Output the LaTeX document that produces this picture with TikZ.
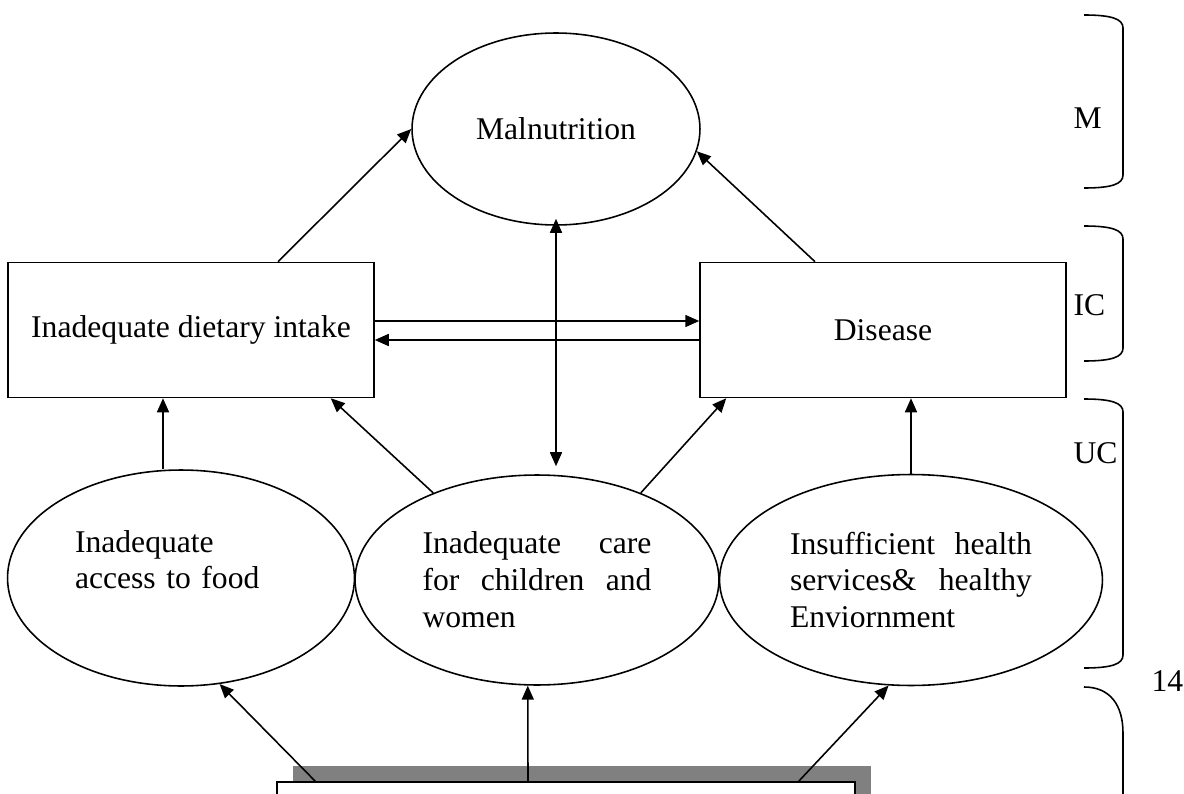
\documentclass[tikz,border=0pt]{standalone}
\usepackage{fontspec}
\setmainfont{Liberation Serif}
\usetikzlibrary{arrows.meta,positioning,calc,shapes.geometric,shadows}

\begin{document}
\begin{tikzpicture}[x=0.02cm,y=-0.02cm,line width=0.9pt,
	every node/.style={font=\fontsize{18pt}{21pt}\selectfont},
	cause/.style={draw,ellipse,inner sep=0pt,align=left},
	cbox/.style={draw,rectangle,minimum width=7.32cm,minimum height=2.7cm},
	arr/.style={-{Triangle[length=0.28cm,width=0.24cm]}},
	dbl/.style={{Triangle[length=0.28cm,width=0.24cm]}-{Triangle[length=0.28cm,width=0.24cm]}}]
				\useasboundingbox (0,0) rectangle (1184,794);
				\clip (0,0) rectangle (1184,794);

				\node[cause,minimum width=5.76cm,minimum height=3.84cm] (mal) at (556,129) {Malnutrition};

				\node[cbox] (diet) at (191,330) {Inadequate dietary intake};
				\node[cbox] (dis) at (883,330) {Disease};

				\node[cause,minimum width=6.94cm,minimum height=4.32cm,text width=4.24cm] (food) at (181,578)
				{Inadequate\\access to food\\\mbox{}};
				\node[cause,minimum width=7.28cm,minimum height=4.2cm,text width=4.58cm] (care) at (537,580)
				{Inadequate\hfill care\\for\hfill children\hfill and\\women};
				\node[cause,minimum width=7.66cm,minimum height=4.22cm,text width=4.84cm] (health) at (911,580)
				{Insufficient\hfill health\\services\&\hfill healthy\\Enviornment};

				\node[draw,fill=white,minimum width=11.56cm,minimum height=1.2cm,
					drop shadow={shadow xshift=0.32cm,shadow yshift=0.32cm,fill=gray,opacity=1}] (root) at (566,812) {};

				\draw[arr] ([xshift=1.74cm]diet.north) -- (mal.west);
				\draw[arr] ([xshift=-1.36cm]dis.north) -- (mal.-9);

				\draw[arr] ([yshift=0.18cm]diet.east) -- ([yshift=0.18cm]dis.west);
				\draw[arr] ([yshift=-0.2cm]dis.west) -- ([yshift=-0.2cm]diet.east);

				\draw[dbl] ($(mal.south)+(0,-7)$) -- ($(mal.south |- care.north)+(0,-8)$);

				\draw[arr] ($(diet.south |- food.north)+(-28,0)$) -- ($(diet.south)+(-28,0)$);
				\draw[arr] (care.140) -- ([xshift=-0.88cm]diet.south east);
				\draw[arr] (care.40) -- ([xshift=0.54cm]dis.south west);
				\draw[arr] (health.north) -- (health.north |- dis.south);

				\draw[arr] ([xshift=0.78cm]root.north west) -- (food.-70);
				\draw[arr] ($(root.north)+(-38,0)$) -- (care.-95);
				\draw[arr] ([xshift=-1.14cm]root.north east) -- (health.-102);

				\foreach \ya/\yb in {15/188,226/361,399/668}
				{
					\draw (1084,\ya) .. controls (1112,\ya) and (1123,\ya+4) .. (1123,\ya+13)
					-- (1123,\yb-13) .. controls (1123,\yb-4) and (1112,\yb) .. (1084,\yb);
				}
				\draw (1084,687) .. controls (1110,687) and (1123,705) .. (1123,733) -- (1123,800);

				\node[anchor=base west] (lm) at (1067,129) {M};
				\node[anchor=base west] (lic) at (1067,315) {IC};
				\node[anchor=base west] (luc) at (1067,463) {UC};
				\node[anchor=base west] (lpage) at (1145,691) {14};
			\end{tikzpicture}
\end{document}
